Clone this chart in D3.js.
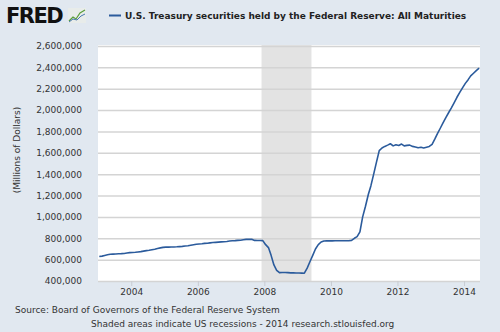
<!DOCTYPE html>
<html><head><meta charset="utf-8">
<script src="https://cdn.jsdelivr.net/npm/d3@7"></script>
<style>
html,body{margin:0;padding:0;background:#e1e8f0;}
svg{display:block;}
</style></head>
<body>
<svg id="chart" width="500" height="332"></svg>
<script>
// ---- data (millions of dollars, monthly) ----
const months = [
"2003-01","2003-02","2003-03","2003-04","2003-05","2003-06","2003-07","2003-08","2003-09","2003-10","2003-11","2003-12",
"2004-01","2004-02","2004-03","2004-04","2004-05","2004-06","2004-07","2004-08","2004-09","2004-10","2004-11","2004-12",
"2005-01","2005-02","2005-03","2005-04","2005-05","2005-06","2005-07","2005-08","2005-09","2005-10","2005-11","2005-12",
"2006-01","2006-02","2006-03","2006-04","2006-05","2006-06","2006-07","2006-08","2006-09","2006-10","2006-11","2006-12",
"2007-01","2007-02","2007-03","2007-04","2007-05","2007-06","2007-07","2007-08","2007-09","2007-10","2007-11","2007-12",
"2008-01","2008-02","2008-03","2008-04","2008-05","2008-06","2008-07","2008-08","2008-09","2008-10","2008-11","2008-12",
"2009-01","2009-02","2009-03","2009-04","2009-05","2009-06","2009-07","2009-08","2009-09","2009-10","2009-11","2009-12",
"2010-01","2010-02","2010-03","2010-04","2010-05","2010-06","2010-07","2010-08","2010-09","2010-10","2010-11","2010-12",
"2011-01","2011-02","2011-03","2011-04","2011-05","2011-06","2011-07","2011-08","2011-09","2011-10","2011-11","2011-12",
"2012-01","2012-02","2012-03","2012-04","2012-05","2012-06","2012-07","2012-08","2012-09","2012-10","2012-11","2012-12",
"2013-01","2013-02","2013-03","2013-04","2013-05","2013-06","2013-07","2013-08","2013-09","2013-10","2013-11","2013-12",
"2014-01","2014-02","2014-03","2014-04","2014-05","2014-06"
];
const holdings = [
629000,633000,639000,645000,650000,652000,653000,655000,656000,658000,662000,666000,
667000,669000,672000,675000,680000,684000,688000,693000,698000,705000,710000,715000,
717000,717000,718000,719000,720000,722000,724000,727000,730000,735000,740000,744000,
746000,748000,752000,754000,757000,760000,762000,764000,766000,768000,770000,774000,
777000,778000,780000,782000,786000,790000,791000,790000,780000,779000,779000,778000,
740000,713000,640000,550000,500000,478000,479000,479000,478000,476000,476000,475000,
475000,474000,473000,520000,580000,640000,700000,740000,765000,775000,776000,776000,
776000,777000,777000,777000,777000,777000,777000,780000,800000,815000,860000,1000000,
1100000,1210000,1290000,1400000,1510000,1620000,1645000,1660000,1672000,1685000,1665000,1675000,
1668000,1682000,1665000,1670000,1672000,1660000,1655000,1648000,1652000,1645000,1653000,1660000,
1680000,1730000,1780000,1830000,1880000,1930000,1975000,2020000,2070000,2120000,2165000,2208000,
2250000,2285000,2320000,2345000,2370000,2392000
];
const yTicks = [400000,600000,800000,1000000,1200000,1400000,1600000,1800000,2000000,2200000,2400000,2600000];
const xTickYears = [2004,2006,2008,2010,2012,2014];
const recessions = [["2007-12-01","2009-06-01"]];
const seriesTitle = "U.S. Treasury securities held by the Federal Reserve: All Maturities";
const yTitle = "(Millions of Dollars)";
const sourceText = "Source: Board of Governors of the Federal Reserve System";
const noteText = "Shaded areas indicate US recessions - 2014 research.stlouisfed.org";

// ---- layout ----
const svg = d3.select("#chart");
const L = 98, R = 480, T = 46, B = 281;
const parse = d3.timeParse("%Y-%m");
const data = months.map((m,i)=>({date:d3.timeDay.offset(parse(m),14), value:holdings[i]}));
const x = d3.scaleTime().domain([new Date(2003,0,1), new Date(2014,5,25)]).range([L,R]);
const y = d3.scaleLinear().domain([400000,2600000]).range([B,T]);
const FONT = "'DejaVu Sans', Verdana, sans-serif";

// plot background
svg.append("rect").attr("x",L).attr("y",T-1).attr("width",R-L).attr("height",B-T+1).attr("fill","#ffffff");

// recessions
svg.selectAll("rect.rec").data(recessions).enter().append("rect")
  .attr("class","rec")
  .attr("x",d=>x(new Date(d[0])))
  .attr("width",d=>x(new Date(d[1]))-x(new Date(d[0])))
  .attr("y",T-1).attr("height",B-T+1)
  .attr("fill","#e3e3e3");

// gridlines + y labels
const yAxis = d3.axisLeft(y).tickValues(yTicks).tickSize(-(R-L)).tickFormat(d3.format(","));
const gy = svg.append("g").attr("transform",`translate(${L},0)`).call(yAxis);
gy.select(".domain").remove();
gy.selectAll(".tick line").attr("stroke","#d4d4d4").attr("stroke-width",1.5);
gy.selectAll(".tick text").attr("x",-16).attr("fill","#333").attr("font-family",FONT).attr("font-size",9);

// x axis
const xAxis = d3.axisBottom(x).tickValues(xTickYears.map(yr=>new Date(yr,0,1))).tickFormat(d3.timeFormat("%Y")).tickSize(5).tickPadding(3);
const gx = svg.append("g").attr("transform",`translate(0,${B})`).call(xAxis);
gx.select(".domain").remove();
gx.selectAll(".tick line").attr("stroke","#c8ccd2");
gx.selectAll(".tick text").attr("fill","#333").attr("font-family",FONT).attr("font-size",9);

// line
const line = d3.line().x(d=>x(d.date)).y(d=>y(d.value)).curve(d3.curveLinear);
svg.append("path").datum(data).attr("d",line).attr("fill","none")
  .attr("stroke","#2b5b9c").attr("stroke-width",1.6).attr("stroke-linejoin","round");

// y title
svg.append("text").attr("transform","translate(20,150) rotate(-90)")
  .attr("text-anchor","middle").attr("font-family",FONT).attr("font-size",9).attr("fill","#333").text(yTitle);

// legend / title
svg.append("line").attr("x1",109).attr("x2",121).attr("y1",15.5).attr("y2",15.5).attr("stroke","#2b5b9c").attr("stroke-width",2);
svg.append("text").attr("x",125).attr("y",19).attr("font-family",FONT).attr("font-weight","bold")
  .attr("font-size",9).attr("fill","#222").text(seriesTitle);

// FRED logo
svg.append("text").attr("x",6).attr("y",23).attr("font-family","'DejaVu Sans', Arial, sans-serif")
  .attr("font-weight","bold").attr("font-size",21).attr("letter-spacing",-1.5).attr("fill","#111").text("FRED");
const icon = svg.append("g").attr("transform","translate(68,8)");
icon.append("rect").attr("width",18).attr("height",15).attr("fill","#e8ecea");
icon.append("polyline").attr("points","1,13 5,9 8,11 12,5 17,2").attr("fill","none").attr("stroke","#5a9e3a").attr("stroke-width",1.2);
icon.append("polyline").attr("points","1,14 5,11 9,12 13,8 17,6").attr("fill","none").attr("stroke","#4a78b0").attr("stroke-width",1);

// footer
svg.append("text").attr("x",15).attr("y",313).attr("font-family",FONT).attr("font-size",9).attr("fill","#333").text(sourceText);
svg.append("text").attr("x",91).attr("y",327).attr("font-family",FONT).attr("font-size",9).attr("fill","#333").text(noteText);
</script>
</body></html>
